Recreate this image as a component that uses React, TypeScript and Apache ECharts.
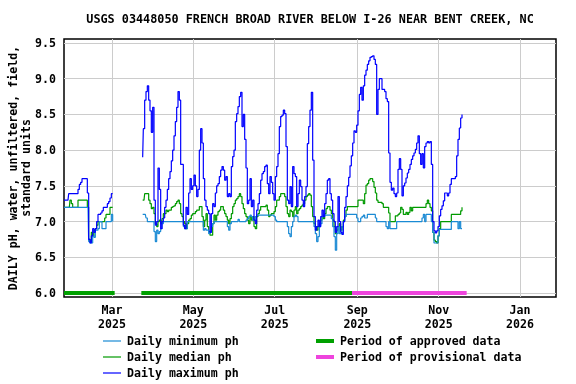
import React, { useEffect, useRef } from 'react';
import * as echarts from 'echarts';

const TITLE = 'USGS 03448050 FRENCH BROAD RIVER BELOW I-26 NEAR BENT CREEK, NC';
const Y_TITLE = 'DAILY pH, water, unfiltered, field,\nstandard units';

const xRange = ['2025-01-24', '2026-01-28'];
const xTicks = ['2025-03-01', '2025-05-01', '2025-07-01', '2025-09-01', '2025-11-01', '2026-01-01'];
const MONTHS = ['Jan', 'Feb', 'Mar', 'Apr', 'May', 'Jun', 'Jul', 'Aug', 'Sep', 'Oct', 'Nov', 'Dec'];
const yRange = [5.944, 9.556];
const yTicks = [6.0, 6.5, 7.0, 7.5, 8.0, 8.5, 9.0, 9.5];

const approvedPeriods = [['2025-01-24', '2025-03-03'], ['2025-03-23', '2025-08-28']];
const provisionalPeriods = [['2025-08-28', '2025-11-22']];

const seg1Start = '2025-01-24';
const seg1Min = [
  7.2, 7.2, 7.2, 7.2, 7.2, 7.2, 7.2, 7.2, 7.2, 7.2,
  7.2, 7.2, 7.2, 7.2, 7.2, 7.2, 7.2, 7.2, 7.2, 6.72,
  6.7, 6.7, 6.8, 6.78, 6.88, 6.88, 6.9, 7.0, 7.0, 6.9,
  6.9, 6.9, 7.0, 7.0, 7.0, 7.0, 7.1, 7.0,
];
const seg1Median = [
  7.2, 7.2, 7.2, 7.2, 7.2, 7.3, 7.25, 7.2, 7.2, 7.2,
  7.2, 7.3, 7.3, 7.3, 7.3, 7.3, 7.3, 7.3, 7.2, 6.75,
  6.72, 6.85, 6.8, 6.88, 6.9, 6.95, 7.0, 7.0, 7.0, 7.0,
  7.0, 7.05, 7.1, 7.1, 7.1, 7.2, 7.2, 7.2,
];
const seg1Max = [
  7.3, 7.3, 7.3, 7.3, 7.39, 7.39, 7.39, 7.39, 7.39, 7.39,
  7.39, 7.45, 7.52, 7.55, 7.6, 7.6, 7.6, 7.6, 7.4, 6.75,
  6.7, 6.8, 6.9, 6.85, 6.9, 7.0, 7.1, 7.1, 7.12, 7.15,
  7.2, 7.2, 7.2, 7.25, 7.28, 7.33, 7.39, 7.39,
];

const seg2Start = '2025-03-24';
const seg2Min = [
  7.1, 7.1, 7.1, 7.05, 7.0, 7.0, 7.0, 7.0, 7.0, 6.86,
  6.72, 6.88, 6.83, 6.86, 6.9, 6.97, 7.0, 7.0, 7.0, 7.0,
  7.0, 7.0, 7.0, 7.0, 7.0, 7.0, 7.0, 7.0, 7.0, 7.0,
  7.0, 6.93, 6.9, 6.9, 7.0, 7.0, 7.0, 7.0, 7.0, 7.0,
  7.0, 7.0, 7.0, 7.0, 7.0, 7.0, 6.88, 6.9, 6.88, 6.88,
  6.83, 6.85, 6.93, 6.97, 7.0, 7.0, 7.0, 7.0, 7.0, 7.0,
  7.0, 7.0, 7.0, 7.0, 6.93, 6.88, 6.97, 7.0, 7.0, 7.0,
  7.0, 7.0, 7.03, 7.0, 7.0, 7.0, 7.0, 7.0, 7.02, 7.04,
  7.07, 7.09, 7.07, 7.02, 7.02, 7.07, 7.09, 7.09, 7.09, 7.09,
  7.09, 7.09, 7.09, 7.09, 7.09, 7.09, 7.09, 7.09, 7.09, 7.07,
  7.02, 7.0, 7.0, 7.0, 7.0, 7.0, 7.0, 7.0, 7.0, 6.93,
  6.83, 6.79, 6.93, 7.0, 7.07, 7.09, 7.07, 7.0, 7.0, 7.0,
  7.0, 7.0, 7.0, 7.0, 7.0, 7.0, 7.0, 7.0, 7.0, 6.93,
  6.83, 6.72, 6.79, 6.93, 6.97, 7.07, 7.09, 7.09, 7.09, 7.09,
  7.09, 7.09, 7.04, 6.93, 6.79, 6.6, 6.83, 6.93, 6.83, 6.83,
  6.93, 7.0, 7.07, 7.1, 7.1, 7.1, 7.1, 7.1, 7.1, 7.1,
  7.1, 7.05, 7.0, 7.0, 7.05, 7.07, 7.09, 7.05, 7.05, 7.1,
  7.1, 7.1, 7.1, 7.1, 7.1, 7.05, 7.0, 7.0, 7.0, 7.0,
  7.0, 7.0, 7.0, 6.93, 6.9, 7.0, 6.9, 6.9, 6.9, 6.9,
  6.9, 7.0, 7.0, 7.0, 7.0, 7.0, 7.0, 7.0, 7.0, 7.0,
  7.0, 7.0, 7.0, 7.0, 7.0, 7.0, 7.0, 7.0, 7.0, 7.0,
  7.05, 7.1, 7.0, 7.1, 7.1, 7.1, 7.1, 7.0, 6.85, 6.7,
  6.7, 6.7, 6.8, 6.89, 6.89, 6.89, 6.89, 6.89, 6.89, 6.89,
  6.89, 6.89, 7.0, 7.0, 7.0, 7.0, 7.0, 6.9, 7.0, 6.9,
  6.9,
];
const seg2Median = [
  7.3, 7.3, 7.39, 7.39, 7.39, 7.3, 7.25, 7.18, 7.2, 7.11,
  6.97, 6.93, 7.0, 7.02, 6.97, 7.04, 7.11, 7.11, 7.16, 7.14,
  7.16, 7.16, 7.2, 7.21, 7.22, 7.25, 7.28, 7.3, 7.25, 7.11,
  7.07, 7.0, 6.97, 6.9, 6.97, 7.02, 7.04, 7.09, 7.11, 7.11,
  7.14, 7.16, 7.16, 7.21, 7.21, 7.07, 6.93, 7.02, 7.11, 6.93,
  6.86, 6.81, 6.81, 6.97, 7.09, 7.02, 7.09, 7.14, 7.16, 7.21,
  7.21, 7.16, 7.11, 7.07, 7.02, 6.97, 7.04, 7.11, 7.21, 7.25,
  7.3, 7.32, 7.35, 7.39, 7.35, 7.25, 7.18, 7.11, 7.07, 7.02,
  6.97, 7.07, 7.02, 7.07, 6.93, 6.9, 7.07, 7.11, 7.16, 7.21,
  7.21, 7.21, 7.21, 7.23, 7.16, 7.07, 7.09, 7.11, 7.11, 7.14,
  7.21, 7.3, 7.3, 7.35, 7.39, 7.39, 7.39, 7.35, 7.21, 7.11,
  7.07, 7.16, 7.14, 7.07, 7.16, 7.21, 7.11, 7.16, 7.18, 7.21,
  7.23, 7.25, 7.3, 7.35, 7.37, 7.39, 7.37, 7.21, 7.07, 6.97,
  6.93, 6.88, 6.93, 6.97, 7.02, 7.07, 7.04, 7.11, 7.18, 7.21,
  7.21, 7.16, 7.11, 7.02, 6.93, 6.83, 6.88, 6.93, 6.97, 6.88,
  6.93, 7.02, 7.07, 7.16, 7.21, 7.21, 7.21, 7.21, 7.21, 7.21,
  7.21, 7.21, 7.3, 7.3, 7.3, 7.3, 7.25, 7.39, 7.51, 7.53,
  7.58, 7.6, 7.6, 7.56, 7.48, 7.4, 7.3, 7.27, 7.27, 7.27,
  7.25, 7.2, 7.2, 7.2, 7.2, 7.12, 7.0, 7.0, 7.0, 7.0,
  7.08, 7.08, 7.1, 7.12, 7.2, 7.17, 7.1, 7.1, 7.13, 7.1,
  7.13, 7.2, 7.15, 7.2, 7.2, 7.2, 7.2, 7.2, 7.2, 7.2,
  7.2, 7.2, 7.2, 7.25, 7.3, 7.25, 7.2, 7.15, 6.85, 6.74,
  6.72, 6.7, 6.8, 6.9, 7.0, 7.0, 7.0, 7.0, 7.0, 7.0,
  7.0, 7.0, 7.1, 7.1, 7.1, 7.1, 7.1, 7.1, 7.1, 7.15,
  7.2,
];
const seg2Max = [
  7.9, 8.3, 8.7, 8.82, 8.9, 8.7, 8.55, 8.25, 8.6, 7.3,
  6.95, 7.0, 7.75, 7.45, 6.9, 7.0, 7.05, 7.2, 7.3, 7.45,
  7.6, 7.7, 7.85, 8.0, 8.2, 8.4, 8.6, 8.82, 8.7, 7.8,
  7.8, 6.95, 6.9, 7.2, 7.1, 7.4, 7.6, 7.45, 7.5, 7.65,
  7.5, 7.35, 7.45, 8.0, 8.3, 8.1, 7.6, 7.3, 7.21, 7.16,
  7.11, 6.85, 7.11, 7.25, 7.21, 7.4, 7.5, 7.53, 7.63, 7.72,
  7.77, 7.72, 7.58, 7.63, 7.35, 7.39, 7.35, 7.77, 7.91, 8.0,
  8.4, 8.51, 8.61, 8.75, 8.81, 8.33, 8.5, 8.15, 7.75, 7.25,
  7.3, 7.6, 7.21, 7.3, 7.02, 6.97, 7.16, 7.25, 7.39, 7.58,
  7.67, 7.7, 7.77, 7.79, 7.53, 7.39, 7.63, 7.55, 7.39, 7.3,
  7.63, 7.77, 7.95, 8.33, 8.47, 8.49, 8.56, 8.51, 8.05, 7.3,
  7.25, 7.49, 7.21, 7.77, 7.67, 7.63, 7.21, 7.39, 7.58, 7.49,
  7.3, 7.21, 7.35, 7.49, 8.09, 8.33, 8.56, 8.81, 7.86, 7.07,
  6.88, 6.93, 7.02, 6.93, 7.07, 7.16, 7.07, 7.25, 7.39, 7.58,
  7.6, 7.39, 7.3, 7.11, 7.0, 6.85, 6.93, 7.35, 7.0, 6.85,
  6.82, 7.0, 7.2, 7.35, 7.5, 7.62, 7.78, 7.92, 8.1, 8.27,
  8.25, 8.35, 8.55, 8.78, 8.88, 8.7, 8.9, 9.05, 9.12, 9.2,
  9.25, 9.3, 9.31, 9.32, 9.27, 9.2, 8.5, 8.85, 9.0, 9.0,
  8.85, 8.85, 8.82, 8.72, 8.68, 7.96, 7.55, 7.44, 7.47, 7.39,
  7.35, 7.4, 7.73, 7.88, 7.73, 7.36, 7.5, 7.54, 7.61, 7.68,
  7.73, 7.8, 7.87, 7.92, 7.96, 8.01, 8.1, 8.2, 7.95, 7.8,
  7.95, 7.75, 8.05, 8.1, 8.12, 8.1, 8.12, 7.8, 7.0, 6.87,
  6.84, 6.87, 6.93, 7.08, 7.17, 7.22, 7.29, 7.4, 7.4, 7.36,
  7.4, 7.52, 7.6, 7.6, 7.6, 7.63, 7.92, 8.15, 8.31, 8.45,
  8.5,
];

const COLORS = {
  min: '#1a8ad4',
  median: '#009a00',
  max: '#0000ff',
  approved: '#00a000',
  provisional: '#ee44dd',
};

const FONT = '"DejaVu Sans Mono", "Liberation Mono", monospace';
const DAY = 86400000;
const ts = (s: string) => Date.parse(s + 'T00:00:00Z');

function segData(start: string, vals: number[]) {
  return vals.map((v, i) => [ts(start) + i * DAY, v]);
}

export default function App() {
  const ref = useRef<HTMLDivElement>(null);
  useEffect(() => {
    const chart = echarts.init(ref.current!, null, { renderer: 'svg' });
    const lineSeries = (name: string, color: string, data: any[], width: number, step: any) => ({
      name,
      type: 'line',
      data,
      step,
      symbol: 'none',
      silent: true,
      lineStyle: { color, width },
      itemStyle: { color },
    });
    const periodSeries = (name: string, color: string, periods: string[][]) =>
      periods.map((p) => lineSeries(name, color, [[ts(p[0]), 6.0], [ts(p[1]), 6.0]], 4, false));
    const dataSeries = (name: string, color: string, a: number[], b: number[]) => [
      lineSeries(name, color, segData(seg1Start, a), 1.2, 'middle'),
      lineSeries(name, color, segData(seg2Start, b), 1.2, 'middle'),
    ];
    const labelFont = { fontFamily: FONT, fontWeight: 'bold', fontSize: 11.6, color: '#000' };
    chart.setOption({
      animation: false,
      grid: {
        left: 64,
        right: 20,
        top: 39,
        bottom: 87,
        show: true,
        borderColor: '#000',
        borderWidth: 1.5,
        backgroundColor: 'transparent',
      },
      xAxis: {
        type: 'value',
        min: ts(xRange[0]),
        max: ts(xRange[1]),
        axisLine: { show: false },
        axisTick: { show: false, customValues: xTicks.map(ts) },
        splitLine: { show: true, lineStyle: { color: '#cccccc', width: 1 } },
        axisLabel: {
          customValues: xTicks.map(ts),
          ...labelFont,
          lineHeight: 14,
          margin: 6,
          formatter: (v: number) => {
            const d = new Date(v);
            return MONTHS[d.getUTCMonth()] + '\n' + d.getUTCFullYear();
          },
        },
      },
      yAxis: {
        type: 'value',
        min: yRange[0],
        max: yRange[1],
        axisLine: { show: false },
        axisTick: { show: false, customValues: yTicks },
        splitLine: { show: true, lineStyle: { color: '#cccccc', width: 1 } },
        axisLabel: {
          customValues: yTicks,
          ...labelFont,
          margin: 8,
          formatter: (v: number) => v.toFixed(1),
        },
      },
      series: [
        ...periodSeries('Period of approved data', COLORS.approved, approvedPeriods),
        ...periodSeries('Period of provisional data', COLORS.provisional, provisionalPeriods),
        ...dataSeries('Daily median ph', COLORS.median, seg1Median, seg2Median),
        ...dataSeries('Daily minimum ph', COLORS.min, seg1Min, seg2Min),
        ...dataSeries('Daily maximum ph', COLORS.max, seg1Max, seg2Max),
      ],
      graphic: [
        {
          type: 'text',
          x: 310,
          y: 19,
          style: {
            text: TITLE,
            align: 'center',
            verticalAlign: 'middle',
            font: `bold 11.8px ${FONT}`,
            fill: '#000',
          },
        },
        {
          type: 'text',
          x: 19.5,
          y: 168,
          rotation: Math.PI / 2,
          style: {
            text: Y_TITLE,
            align: 'center',
            verticalAlign: 'middle',
            lineHeight: 13,
            font: `bold 11.6px ${FONT}`,
            fill: '#000',
          },
        },
        ...[
          { label: 'Daily minimum ph', color: COLORS.min, x: 103, y: 341, w: 1.2 },
          { label: 'Daily median ph', color: COLORS.median, x: 103, y: 357, w: 1.2 },
          { label: 'Daily maximum ph', color: COLORS.max, x: 103, y: 373, w: 1.2 },
          { label: 'Period of approved data', color: COLORS.approved, x: 316, y: 341, w: 4 },
          { label: 'Period of provisional data', color: COLORS.provisional, x: 316, y: 357, w: 4 },
        ].flatMap((it) => [
          {
            type: 'line',
            shape: { x1: it.x, y1: it.y, x2: it.x + 18, y2: it.y },
            style: { stroke: it.color, lineWidth: it.w },
          },
          {
            type: 'text',
            x: it.x + 24,
            y: it.y,
            style: {
              text: it.label,
              align: 'left',
              verticalAlign: 'middle',
              font: `bold 11.6px ${FONT}`,
              fill: '#000',
            },
          },
        ]),
      ],
    });
    return () => chart.dispose();
  }, []);
  return <div ref={ref} style={{ position: 'fixed', left: 0, top: 0, width: 576, height: 384 }} />;
}
